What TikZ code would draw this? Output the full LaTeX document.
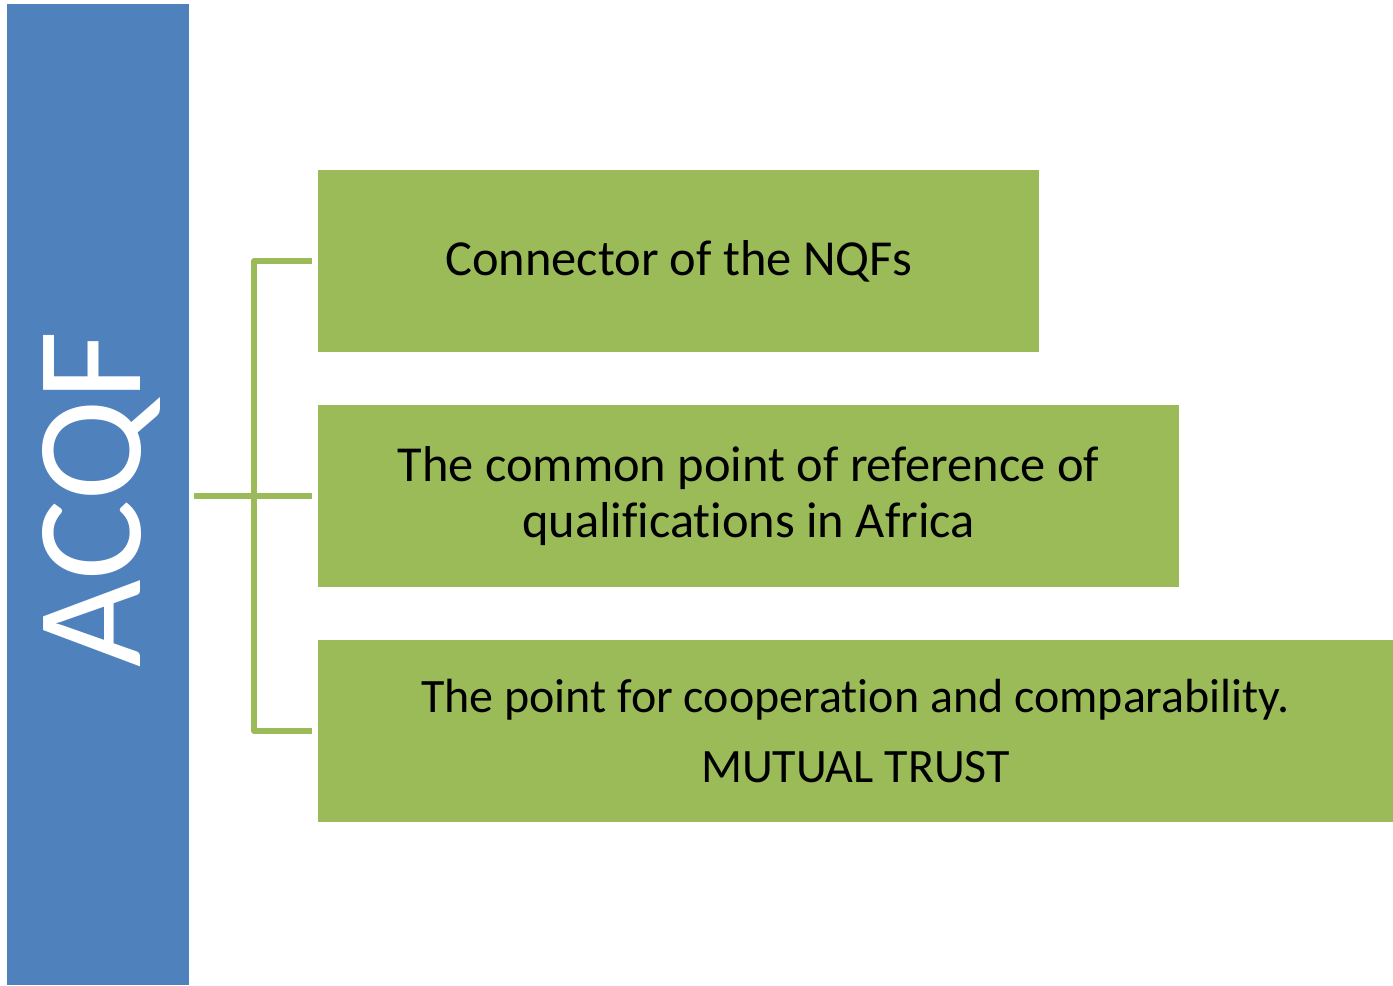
\documentclass[tikz,border=0pt]{standalone}
\usepackage{fontspec}
\setmainfont{Carlito}[Ligatures=NoCommon]
\usetikzlibrary{calc}
\definecolor{xanhduong}{HTML}{4F81BD}
\definecolor{xanhla}{HTML}{9BBB59}
\begin{document}
\begin{tikzpicture}[x=0.02cm,y=-0.02cm]
	\useasboundingbox (0,0)rectangle(1393,985);
	\clip (0,0)rectangle(1393,985);
	\tikzset{khoi/.style={fill=xanhla,inner sep=0pt,minimum height=3.64cm,align=center,font=\fontsize{28.7}{32}\selectfont},
	noi/.style={draw=xanhla,line width=2.9pt,line join=round}}
	\node[fill=xanhduong,inner sep=0pt,minimum width=3.64cm,minimum height=19.62cm](acqf) at (98,494.5){};
	\node[rotate=90,text=white,font=\fontsize{86}{92}\selectfont](nhan) at (101,499){ACQF};
	\node[khoi,minimum width=14.42cm](k1) at (678.5,261){Connector of the NQFs};
	\node[khoi,minimum width=17.22cm](k2) at (748.5,496){The common point of reference of\\qualifications in Africa};
	\node[khoi,minimum width=21.5cm,font=\fontsize{27.3}{32}\selectfont](k3) at (855.5,731){The point for cooperation and comparability.\\[8pt]MUTUAL TRUST};
	\coordinate (truc) at (254,0);
	\coordinate (dau) at ([xshift=0.1cm]acqf.east |- k2.west);
	\draw[noi](dau)--([xshift=-0.12cm]k2.west);
	\draw[noi]([xshift=-0.12cm]k1.west)-|(truc |- k3.west)--([xshift=-0.12cm]k3.west);
	\end{tikzpicture}
\end{document}
